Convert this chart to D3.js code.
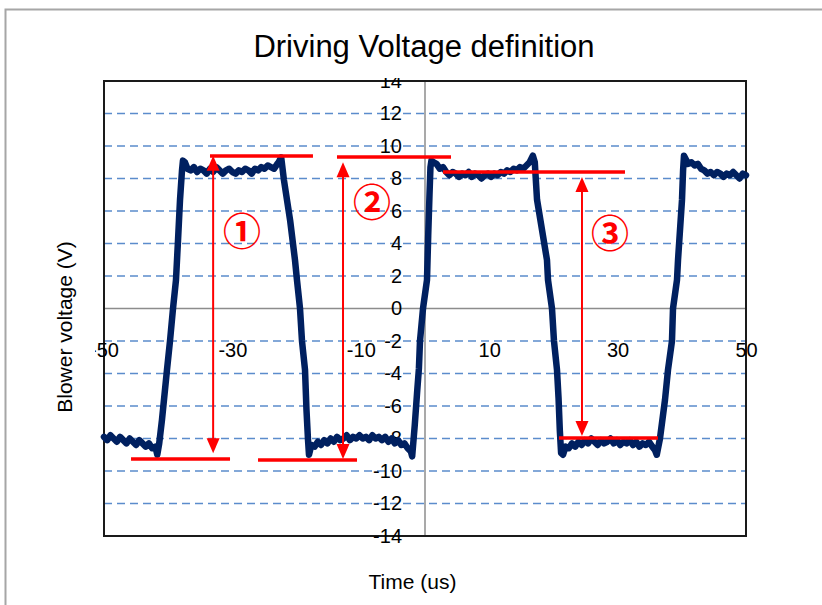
<!DOCTYPE html>
<html>
<head>
<meta charset="utf-8">
<script src="https://cdn.jsdelivr.net/npm/d3@7"></script>
<style>
html,body{margin:0;padding:0;background:#fff;}
svg{display:block;}
text{font-family:"Liberation Sans",Arial,sans-serif;fill:#000;}
</style>
</head>
<body>
<svg id="c" width="822" height="605"></svg>
<script>
// ---------- data ----------
const titleText = "Driving Voltage definition";
const xTitle = "Time (us)";
const yTitle = "Blower voltage (V)";
const xTickValues = [-50, -30, -10, 10, 30, 50];
const yTickValues = [-14,-12,-10,-8,-6,-4,-2,0,2,4,6,8,10,12,14];
const yGridValues = [-12,-10,-8,-6,-4,-2,2,4,6,8,10,12];

// waveform (time in us, voltage in V)
const waveT = [
 -50,-49.5,-49,-48.5,-48,-47.5,-47,-46.5,-46,-45.5,-45,-44.5,-44,-43.5,-43,-42.5,-42,-41.7,
 -41.4,-40.97,-40.19,-39.72,-39.25,-38.79,-38.47,-38.16,-37.85,-37.7,
 -37.4,-37,-36.5,-36,-35.5,-35,-34.5,-34,-33.5,-33,-32.5,-32,-31.5,-31,-30.5,-30,-29.5,-29,-28.5,-28,-27.5,-27,-26.5,-26,-25.5,-25,-24.5,-24,-23.5,-23,-22.8,-22.4,
 -21.97,-21.0,-20.25,-19.94,-19.47,-19.16,-18.69,-18.46,-18.22,-18.07,
 -17.7,-17.2,-16.7,-16.2,-15.7,-15.2,-14.7,-14.2,-13.7,-13.2,-12.7,-12.2,-11.7,-11.2,-10.7,-10.2,-9.7,-9.2,-8.7,-8.2,-7.7,-7.2,-6.7,-6.2,-5.7,-5.2,-4.7,-4.2,-3.7,-3.2,-2.7,-2.2,-2.0,
 -1.6,-1.2,-0.95,-0.78,-0.31,0.31,0.5,0.7,0.85,1.0,
 1.3,1.8,2.3,2.8,3.3,3.8,4.3,4.8,5.3,5.8,6.3,6.8,7.3,7.8,8.3,8.8,9.3,9.8,10.3,10.8,11.3,11.8,12.3,12.8,13.3,13.8,14.3,14.8,15.3,15.8,16.3,16.8,17.1,
 17.45,19.0,19.16,19.78,20.09,20.56,20.8,21.0,21.2,
 21.5,21.9,22.4,22.9,23.4,23.9,24.4,24.9,25.4,25.9,26.4,26.9,27.4,27.9,28.4,28.9,29.4,29.9,30.4,30.9,31.4,31.9,32.4,32.9,33.4,33.9,34.4,34.9,35.4,35.8,36.1,
 36.6,37.38,37.85,38.47,38.63,39.25,39.41,40.03,40.2,40.34,
 40.6,41.0,41.5,42.0,42.5,43.0,43.5,44.0,44.5,45.0,45.5,46.0,46.5,47.0,47.5,48.0,48.5,49.0,49.5,50
];
const waveV = [
 -7.9,-8.1,-7.8,-8.0,-8.2,-7.9,-8.1,-8.3,-8.0,-8.2,-8.4,-8.1,-8.3,-8.5,-8.3,-8.6,-8.5,-9.0,
 -8.3,-6.86,-3.78,-2.0,0,1.75,4.2,6.68,8.5,9.1,
 9.0,8.6,8.5,8.7,8.4,8.6,8.5,8.3,8.6,8.4,8.7,8.5,8.3,8.5,8.6,8.4,8.3,8.5,8.4,8.6,8.5,8.3,8.6,8.5,8.7,8.6,8.8,8.7,8.6,8.9,9.0,9.3,
 7.9,5.4,2.98,1.75,0,-2.0,-3.78,-6.25,-8.1,-9.0,
 -8.4,-8.5,-8.2,-8.4,-8.1,-8.3,-8.0,-8.2,-7.9,-8.1,-8.0,-7.8,-8.1,-7.9,-8.0,-7.8,-8.0,-7.9,-8.1,-7.8,-8.0,-7.9,-8.1,-7.9,-8.2,-8.0,-8.3,-8.1,-8.4,-8.3,-8.6,-8.8,-9.1,
 -7.2,-5.0,-3.7,-2.0,0,1.75,4.5,7.0,8.7,9.1,
 9.0,8.9,8.6,8.7,8.4,8.2,8.4,8.3,8.1,8.3,8.2,8.4,8.1,8.3,8.2,8.0,8.2,8.3,8.1,8.3,8.2,8.4,8.3,8.5,8.4,8.6,8.5,8.7,8.6,8.8,9.0,9.4,9.0,
 6.7,2.98,1.75,0,-2.0,-3.78,-5.5,-7.5,-8.9,
 -9.0,-8.5,-8.6,-8.3,-8.5,-8.2,-8.4,-8.1,-8.3,-8.0,-8.2,-8.4,-8.1,-8.3,-8.2,-8.0,-8.3,-8.1,-8.4,-8.2,-8.3,-8.1,-8.4,-8.2,-8.5,-8.3,-8.4,-8.2,-8.5,-8.7,-9.0,
 -8.0,-5.63,-3.78,-2.0,0,1.75,2.98,6.68,8.5,9.4,
 9.2,8.9,9.0,8.8,8.9,8.6,8.5,8.3,8.4,8.2,8.4,8.3,8.1,8.3,8.2,8.4,8.2,8.0,8.3,8.2
];

// red level lines (x1, x2, level) and double arrows (x, top, bottom)
const levelX1 = [-33.49, -13.71, 2.80, -45.79, -26.01, 20.87];
const levelX2 = [-17.45, 4.05, 31.15, -30.37, -10.59, 36.29];
const levelY  = [9.38, 9.32, 8.40, -9.26, -9.32, -7.97];
const arrowX   = [-33.0, -12.77, 24.45];
const arrowTop = [9.4, 9.0, 8.1];
const arrowBot = [-8.9, -9.26, -7.85];
const markLabels = ["①", "②", "③"];
const markX = [-28.5, -8.26, 28.8];
const markY = [4.95, 6.68, 4.77];

// ---------- drawing ----------
const svg = d3.select("#c");
const L = 104, R = 746, T = 81, B = 536;
const x = d3.scaleLinear().domain([-50, 50]).range([L, R]);
const y = d3.scaleLinear().domain([-14, 14]).range([B, T]);
const fmt = d => String(d);

// outer chart border
svg.append("rect").attr("x", 5.5).attr("y", 9.5).attr("width", 840).attr("height", 620)
  .attr("fill", "#fff").attr("stroke", "#a6a6a6").attr("stroke-width", 2);

// gridlines
svg.append("g").selectAll("line").data(yGridValues).join("line")
  .attr("x1", L).attr("x2", R)
  .attr("y1", d => y(d)).attr("y2", d => y(d))
  .attr("stroke", "#5b8ccc").attr("stroke-width", 1.5)
  .attr("stroke-dasharray", "8,5");

// zero axes
svg.append("line").attr("x1", L).attr("x2", R).attr("y1", y(0)).attr("y2", y(0))
  .attr("stroke", "#8c8c8c").attr("stroke-width", 1.5);
svg.append("line").attr("x1", x(0)).attr("x2", x(0)).attr("y1", T).attr("y2", B)
  .attr("stroke", "#8c8c8c").attr("stroke-width", 1.5);

// plot frame
svg.append("rect").attr("x", L).attr("y", T).attr("width", R - L).attr("height", B - T)
  .attr("fill", "none").attr("stroke", "#1a1a1a").attr("stroke-width", 2);

// y axis labels along the x=0 axis
const yAxis = d3.axisLeft(y).tickValues(yTickValues).tickSize(0).tickPadding(23).tickFormat(fmt);
const gy = svg.append("g").attr("transform", `translate(${x(0)},0)`).call(yAxis);
gy.select(".domain").remove();
gy.selectAll("text").style("font-family", '"Liberation Sans",Arial,sans-serif')
  .style("font-size", "20px").attr("fill", "#000");

// x axis labels
const xAxis = d3.axisBottom(x).tickValues(xTickValues).tickSize(0).tickPadding(34).tickFormat(fmt);
const gx = svg.append("g").attr("transform", `translate(0,${y(0)})`).call(xAxis);
gx.select(".domain").remove();
gx.selectAll("text").style("font-family", '"Liberation Sans",Arial,sans-serif')
  .style("font-size", "20px").attr("fill", "#000");

// waveform
const pts = waveT.map((t, i) => [t, waveV[i]]);
svg.append("path").datum(pts)
  .attr("d", d3.line().x(d => x(d[0])).y(d => y(d[1])))
  .attr("fill", "none").attr("stroke", "#002060").attr("stroke-width", 6.5)
  .attr("stroke-linejoin", "round").attr("stroke-linecap", "round");

// red level lines
svg.append("g").selectAll("line").data(levelY).join("line")
  .attr("x1", (d, i) => x(levelX1[i])).attr("x2", (d, i) => x(levelX2[i]))
  .attr("y1", d => y(d)).attr("y2", d => y(d))
  .attr("stroke", "#ff0000").attr("stroke-width", 3.5);

// double arrows
const ag = svg.append("g");
arrowX.forEach((ax, i) => {
  const px = x(ax), yt = y(arrowTop[i]), yb = y(arrowBot[i]);
  const hw = 6.5, hl = 15;
  ag.append("line").attr("x1", px).attr("x2", px).attr("y1", yt + hl - 2).attr("y2", yb - hl + 2)
    .attr("stroke", "#ff0000").attr("stroke-width", 2);
  ag.append("path").attr("d", `M${px},${yt}L${px - hw},${yt + hl}L${px + hw},${yt + hl}Z`).attr("fill", "#ff0000");
  ag.append("path").attr("d", `M${px},${yb}L${px - hw},${yb - hl}L${px + hw},${yb - hl}Z`).attr("fill", "#ff0000");
});

// circled numbers
svg.append("g").selectAll("text").data(markLabels).join("text")
  .attr("x", (d, i) => x(markX[i])).attr("y", (d, i) => y(markY[i]))
  .attr("text-anchor", "middle").attr("dominant-baseline", "central")
  .style("font-family", '"Noto Sans CJK JP","Noto Sans CJK SC",sans-serif')
  .style("font-size", "38px").style("font-weight", "bold")
  .style("fill", "#ff0000").text(d => d);

// title box (hides top of the "14" label as in the original)
svg.append("rect").attr("x", 230).attr("y", 12).attr("width", 390).attr("height", 66).attr("fill", "#fff");
svg.append("text").attr("x", 424).attr("y", 57).attr("text-anchor", "middle")
  .style("font-size", "31px").text(titleText);

// y title box (hides the minus of "-50")
svg.append("rect").attr("x", 44).attr("y", 225).attr("width", 51).attr("height", 205).attr("fill", "#fff");
svg.append("text").attr("transform", `translate(72,327) rotate(-90)`)
  .attr("text-anchor", "middle").style("font-size", "21px").text(yTitle);

// x title
svg.append("text").attr("x", 412.5).attr("y", 589).attr("text-anchor", "middle")
  .style("font-size", "21px").text(xTitle);
</script>
</body>
</html>
